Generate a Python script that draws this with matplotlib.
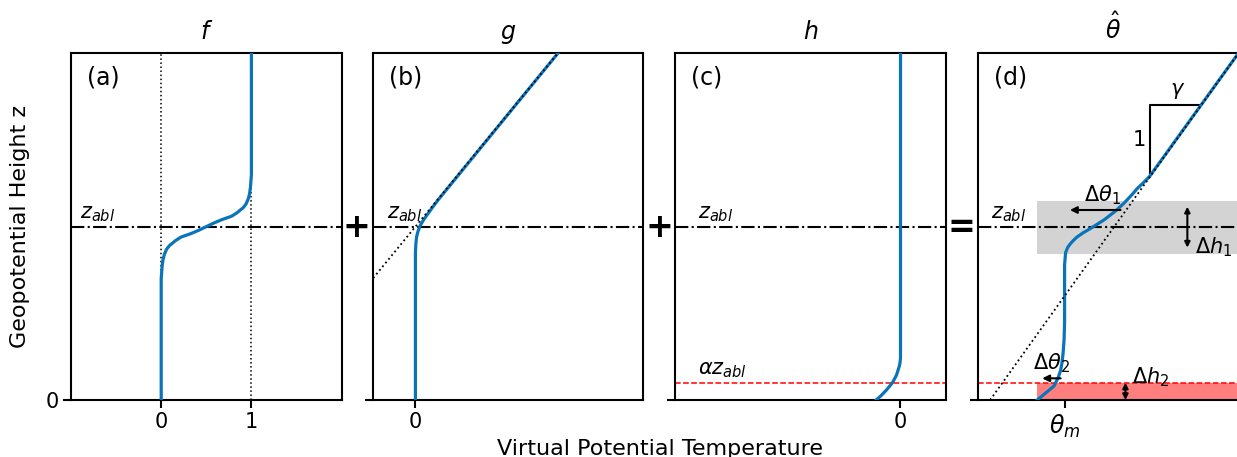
import matplotlib
matplotlib.use('Agg')
import matplotlib.pyplot as plt

# ---------------- data ----------------
z_abl = 1.0
alpha_z_abl = 0.1
z_top = 2.0

# panel (a): f
f_z = [0.0, 0.70, 0.77, 0.81, 0.84, 0.87, 0.89, 0.92, 0.94, 0.96, 0.98, 1.00,
       1.02, 1.04, 1.06, 1.08, 1.11, 1.13, 1.16, 1.19, 1.23, 1.30, 2.0]
f_x = [0.0, 0.0, 0.01, 0.02, 0.035, 0.06, 0.09, 0.16, 0.22, 0.33, 0.42, 0.50,
       0.58, 0.67, 0.78, 0.84, 0.91, 0.94, 0.965, 0.98, 0.99, 1.0, 1.0]
f_ticks = [0, 1]
f_ticklabels = ['0', '1']

# panel (b): g
g_z = [0.0, 0.85, 0.90, 0.94, 0.97, 1.00, 1.03, 1.06, 1.10, 1.15, 2.0]
g_x = [0.0, 0.0, 0.003, 0.008, 0.017, 0.03, 0.05, 0.075, 0.11, 0.155, 1.0]
g_ref_z = [0.0, 2.0]
g_ref_x = [-1.0, 1.0]

# panel (c): h
h_z = [0.0, 0.023, 0.058, 0.10, 0.144, 0.192, 0.21, 0.24, 2.0]
h_x = [-0.27, -0.22, -0.155, -0.089, -0.044, -0.015, -0.007, 0.0, 0.0]

# panel (d): theta hat
th_z = [0.0, 0.04, 0.08, 0.125, 0.17, 0.22, 0.27, 0.35, 0.45, 0.78, 0.85, 0.88, 0.90,
        0.92, 0.94, 0.965, 0.99, 1.04, 1.09, 1.135, 1.19, 1.22, 1.25, 1.29, 2.0]
th_x = [-0.22, -0.153, -0.086, -0.054, -0.032, -0.02, -0.012, -0.004, 0.0, 0.0, 0.008,
        0.025, 0.045, 0.07, 0.10, 0.15, 0.21, 0.32, 0.41, 0.478, 0.55, 0.585, 0.63,
        0.685, 1.40]
th_ref_z = [0.0, 2.0]
th_ref_x = [-0.6, 1.4]
dh1_band = [0.84, 1.15]
slope_tri_x = [0.69, 0.69, 1.10]
slope_tri_z = [1.29, 1.70, 1.70]

titles = ['$f$', '$g$', '$h$', r'$\hat{\theta}$']
panel_labels = ['(a)', '(b)', '(c)', '(d)']
xlims = [(-1.0, 2.0), (-0.3, 1.6), (-2.5, 0.5), (-0.7, 1.48)]

BLUE = '#0a74ba'

# ---------------- figure ----------------
W, H = 1237, 457
fig = plt.figure(figsize=(W / 100, H / 100), dpi=100)

lefts = [71, 372.7, 675, 977.7]
ax_w = 270.6
ax_bot, ax_top = 400, 53.3
axes = []
for i, l in enumerate(lefts):
    ax = fig.add_axes([l / W, (H - ax_bot) / H, ax_w / W, (ax_bot - ax_top) / H])
    ax.set_xlim(*xlims[i])
    ax.set_ylim(0, z_top)
    ax.set_yticks([0])
    ax.set_yticklabels(['0'] if i == 0 else [''])
    for s in ax.spines.values():
        s.set_linewidth(1.5)
    ax.tick_params(width=1.5, length=5.5, labelsize=15)
    ax.set_title(titles[i], fontsize=17, pad=10)
    ax.text(0.06, 0.965, panel_labels[i], transform=ax.transAxes, fontsize=17,
            ha='left', va='top')
    ax.axhline(z_abl, color='k', ls='-.', lw=1.5, zorder=2)
    axes.append(ax)

axa, axb, axc, axd = axes

# (a)
axa.axvline(0, color='k', ls=':', lw=1.1)
axa.axvline(1, color='k', ls=':', lw=1.1)
axa.plot(f_x, f_z, color=BLUE, lw=2.3, zorder=3, solid_joinstyle='round')
axa.set_xticks(f_ticks)
axa.set_xticklabels(f_ticklabels)
axa.text(-0.90, 1.05, r'$z_{abl}$', fontsize=15, va='baseline')

# (b)
axb.plot(g_x, g_z, color=BLUE, lw=2.3, zorder=3, solid_joinstyle='round')
axb.plot(g_ref_x, g_ref_z, color='k', ls=':', lw=1.3, zorder=4)
axb.set_xticks([0])
axb.set_xticklabels(['0'])
axb.text(-0.197, 1.05, r'$z_{abl}$', fontsize=15, va='baseline')

# (c)
axc.axhline(alpha_z_abl, color='red', ls='--', lw=1.1)
axc.plot(h_x, h_z, color=BLUE, lw=2.3, zorder=3, solid_joinstyle='round')
axc.set_xticks([0])
axc.set_xticklabels(['0'])
axc.text(-2.247, 1.05, r'$z_{abl}$', fontsize=15, va='baseline')
axc.text(-2.247, 0.15, r'$\alpha z_{abl}$', fontsize=15, va='baseline')

# (d)
xr = xlims[3][1]
axd.fill_between([th_x[0], xr], dh1_band[0], dh1_band[1], color='#d3d3d3', lw=0, zorder=0)
axd.fill_between([th_x[0], xr], 0, alpha_z_abl, color='#ff7f7f', lw=0, zorder=0)
axd.axhline(alpha_z_abl, color='red', ls='--', lw=1.1, zorder=1)
axd.plot(th_x, th_z, color=BLUE, lw=2.3, zorder=3, solid_joinstyle='round')
axd.plot(th_ref_x, th_ref_z, color='k', ls=':', lw=1.3, zorder=4)
axd.plot(slope_tri_x, slope_tri_z, color='k', lw=1.5, zorder=2)
axd.set_xticks([0])
axd.set_xticklabels([r'$\theta_m$'], fontsize=17)
axd.text(-0.596, 1.05, r'$z_{abl}$', fontsize=15, va='baseline')
axd.text(0.60, 1.50, '1', fontsize=15, ha='center', va='center')
axd.text(0.908, 1.78, r'$\gamma$', fontsize=15, ha='center', va='center')

ap1 = dict(arrowstyle='-|>', color='k', lw=1.5, mutation_scale=10, shrinkA=0, shrinkB=0)
ap2 = dict(arrowstyle='<|-|>', color='k', lw=1.5, mutation_scale=8, shrinkA=0, shrinkB=0)
axd.annotate('', xy=(0.043, 1.096), xytext=(0.451, 1.096), arrowprops=ap1)
axd.text(0.304, 1.183, r'$\Delta\theta_1$', fontsize=15, ha='center', va='center')
axd.annotate('', xy=(0.989, 0.879), xytext=(0.989, 1.115), arrowprops=ap2)
axd.text(1.05, 0.884, r'$\Delta h_1$', fontsize=15, ha='left', va='center')
axd.annotate('', xy=(-0.18, 0.125), xytext=(-0.032, 0.125), arrowprops=ap1)
axd.text(-0.106, 0.21, r'$\Delta\theta_2$', fontsize=15, ha='center', va='center')
axd.annotate('', xy=(0.49, 0.0), xytext=(0.49, alpha_z_abl), arrowprops=ap2)
axd.text(0.54, 0.134, r'$\Delta h_2$', fontsize=15, ha='left', va='center')

# operators between panels
for xc, sym in [(356.9, '+'), (659.2, '+'), (961.7, '=')]:
    fig.text(xc / W, (H - 227.3) / H, sym, fontsize=24, fontweight='bold',
             ha='center', va='center')

fig.text(659.6 / W, 2 / H, 'Virtual Potential Temperature', fontsize=16,
         ha='center', va='baseline')
fig.text(20 / W, (H - 226.7) / H, 'Geopotential Height z', fontsize=16,
         rotation=90, ha='center', va='center')

fig.savefig('out.png', dpi=100)
